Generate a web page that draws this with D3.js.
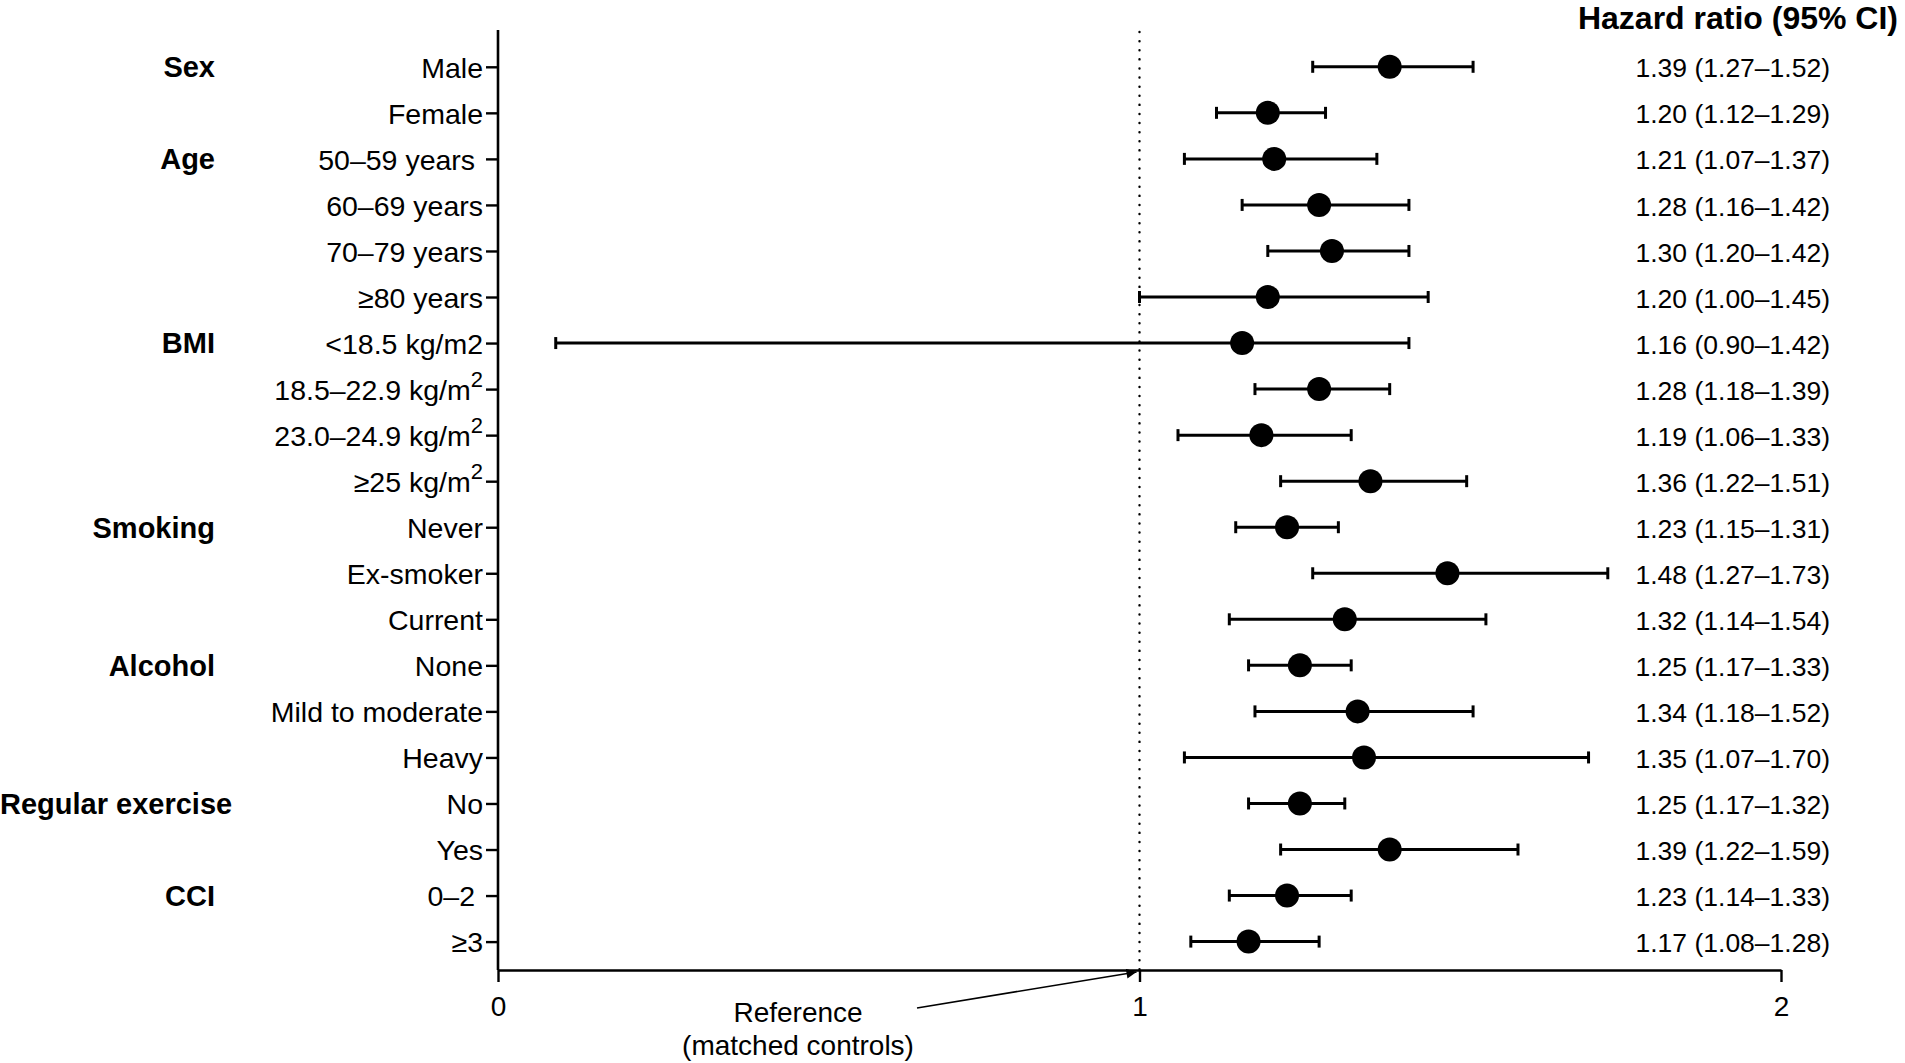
<!DOCTYPE html>
<html>
<head>
<meta charset="utf-8">
<script src="https://cdn.jsdelivr.net/npm/d3@7"></script>
<style>
  body { margin: 0; background: #fff; }
  svg { display: block; font-family: "Liberation Sans", Arial, sans-serif; }
</style>
</head>
<body>
<svg id="chart" width="1905" height="1063"></svg>
<script>
// subgroup labels, top to bottom ("^2" marks a superscript 2)
const rows = ['Male', 'Female', '50\u201359 years\u00a0', '60\u201369 years', '70\u201379 years',
  '\u226580 years', '<18.5 kg/m2', '18.5\u201322.9 kg/m^2', '23.0\u201324.9 kg/m^2', '\u226525 kg/m^2',
  'Never', 'Ex-smoker', 'Current', 'None', 'Mild to moderate', 'Heavy', 'No', 'Yes',
  '0\u20132\u00a0', '\u22653'];

// group headings and the row they sit on
const groups = ['Sex', 'Age', 'BMI', 'Smoking', 'Alcohol', 'Regular exercise', 'CCI'];
const groupRow = [0, 2, 6, 10, 13, 16, 18];

// hazard ratio and plotted CI bounds
const hr = [1.39, 1.20, 1.21, 1.28, 1.30, 1.20, 1.16, 1.28, 1.19, 1.36,
  1.23, 1.48, 1.32, 1.25, 1.34, 1.35, 1.25, 1.39, 1.23, 1.17];
const lo = [1.27, 1.12, 1.07, 1.16, 1.20, 1.00, 0.09, 1.18, 1.06, 1.22,
  1.15, 1.27, 1.14, 1.17, 1.18, 1.07, 1.17, 1.22, 1.14, 1.08];
const hi = [1.52, 1.29, 1.37, 1.42, 1.42, 1.45, 1.42, 1.39, 1.33, 1.51,
  1.31, 1.73, 1.54, 1.33, 1.52, 1.70, 1.32, 1.59, 1.33, 1.28];

// printed column on the right
const ciText = ['1.39 (1.27\u20131.52)', '1.20 (1.12\u20131.29)', '1.21 (1.07\u20131.37)',
  '1.28 (1.16\u20131.42)', '1.30 (1.20\u20131.42)', '1.20 (1.00\u20131.45)', '1.16 (0.90\u20131.42)',
  '1.28 (1.18\u20131.39)', '1.19 (1.06\u20131.33)', '1.36 (1.22\u20131.51)', '1.23 (1.15\u20131.31)',
  '1.48 (1.27\u20131.73)', '1.32 (1.14\u20131.54)', '1.25 (1.17\u20131.33)', '1.34 (1.18\u20131.52)',
  '1.35 (1.07\u20131.70)', '1.25 (1.17\u20131.32)', '1.39 (1.22\u20131.59)', '1.23 (1.14\u20131.33)',
  '1.17 (1.08\u20131.28)'];

const xTicks = [0, 1, 2];
const refValue = 1;

const svg = d3.select('#chart');

const x = d3.scaleLinear().domain([0, 2]).range([498, 1781]);
const y = d3.scalePoint().domain(d3.range(rows.length)).range([66.8, 941.6]);
const axisY = 970;
const topY = 30;

const setLabel = (text, label) => {
  text.text(null);
  const parts = label.split('^');
  text.append('tspan').text(parts[0]);
  if (parts.length > 1) {
    text.append('tspan')
      .attr('dy', '-0.6em')
      .style('font-size', '22px')
      .text(parts[1]);
  }
};

// reference line at HR = 1
svg.append('line')
  .attr('x1', x(refValue)).attr('x2', x(refValue))
  .attr('y1', topY + 2).attr('y2', axisY)
  .attr('stroke', '#000')
  .attr('stroke-width', 2.4)
  .attr('stroke-linecap', 'round')
  .attr('stroke-dasharray', '0.1 9');

// y axis
const yAxis = svg.append('g')
  .attr('transform', `translate(${x(0)},0)`)
  .call(d3.axisLeft(y).tickSize(12).tickPadding(3).tickFormat(i => rows[i]));
yAxis.select('.domain').remove();
yAxis.selectAll('.tick line').attr('stroke', '#000').attr('stroke-width', 2.4);
yAxis.selectAll('.tick text')
  .style('font-size', '28.5px')
  .attr('fill', '#000')
  .attr('dy', '0.36em')
  .each(function (i) { d3.select(this).call(setLabel, rows[i]); });
svg.append('line')
  .attr('x1', x(0)).attr('x2', x(0))
  .attr('y1', topY).attr('y2', axisY)
  .attr('stroke', '#000')
  .attr('stroke-width', 2.6);

// x axis
const xAxis = svg.append('g')
  .attr('transform', `translate(0,${axisY})`)
  .call(d3.axisBottom(x).tickValues(xTicks).tickSize(12).tickSizeOuter(0).tickPadding(14)
    .tickFormat(d3.format('d')));
xAxis.select('.domain').attr('stroke', '#000').attr('stroke-width', 2.6);
xAxis.selectAll('.tick line').attr('stroke', '#000').attr('stroke-width', 2.4);
xAxis.selectAll('.tick text').style('font-size', '28px').attr('fill', '#000');

// group headings
svg.append('g').selectAll('text')
  .data(groups)
  .join('text')
    .attr('x', 215)
    .attr('y', (d, i) => y(groupRow[i]))
    .attr('dy', '0.36em')
    .attr('text-anchor', 'end')
    .style('font-size', '29px')
    .style('font-weight', 'bold')
    .text(d => d)
    .each(function () {
      const b = this.getBBox();
      if (b.x < 0) d3.select(this).attr('text-anchor', 'start').attr('x', 0);
    });

// error bars and points
const marks = svg.append('g').selectAll('g')
  .data(d3.range(rows.length))
  .join('g')
    .attr('transform', i => `translate(0,${y(i)})`);

marks.append('line')
  .attr('x1', i => x(lo[i])).attr('x2', i => x(hi[i]))
  .attr('stroke', '#000').attr('stroke-width', 3);
marks.selectAll('line.cap')
  .data(i => [lo[i], hi[i]])
  .join('line')
    .attr('class', 'cap')
    .attr('x1', d => x(d)).attr('x2', d => x(d))
    .attr('y1', -6).attr('y2', 6)
    .attr('stroke', '#000').attr('stroke-width', 3);
marks.append('circle')
  .attr('cx', i => x(hr[i]))
  .attr('r', 12)
  .attr('fill', '#000');

// right-hand column
svg.append('text')
  .attr('x', 1898).attr('y', 29)
  .attr('text-anchor', 'end')
  .style('font-size', '32px')
  .style('font-weight', 'bold')
  .text('Hazard ratio (95% CI)');

svg.append('g').selectAll('text')
  .data(ciText)
  .join('text')
    .attr('x', 1830)
    .attr('y', (d, i) => y(i))
    .attr('dy', '0.4em')
    .attr('text-anchor', 'end')
    .style('font-size', '26.5px')
    .text(d => d);

// reference annotation
svg.append('defs').append('marker')
  .attr('id', 'head')
  .attr('viewBox', '0 0 10 10')
  .attr('refX', 10).attr('refY', 5)
  .attr('markerWidth', 14).attr('markerHeight', 10)
  .attr('markerUnits', 'userSpaceOnUse')
  .attr('orient', 'auto')
  .append('path')
    .attr('d', 'M0,0L10,5L0,10Z')
    .attr('fill', '#000');

svg.append('line')
  .attr('x1', 917).attr('y1', 1008)
  .attr('x2', x(refValue) - 3).attr('y2', axisY + 2)
  .attr('stroke', '#000').attr('stroke-width', 1.6)
  .attr('marker-end', 'url(#head)');

const note = svg.append('text')
  .attr('x', 798)
  .attr('text-anchor', 'middle')
  .style('font-size', '28px');
note.append('tspan').attr('x', 798).attr('y', 1022).text('Reference');
note.append('tspan').attr('x', 798).attr('y', 1055).text('(matched controls)');
</script>
</body>
</html>
